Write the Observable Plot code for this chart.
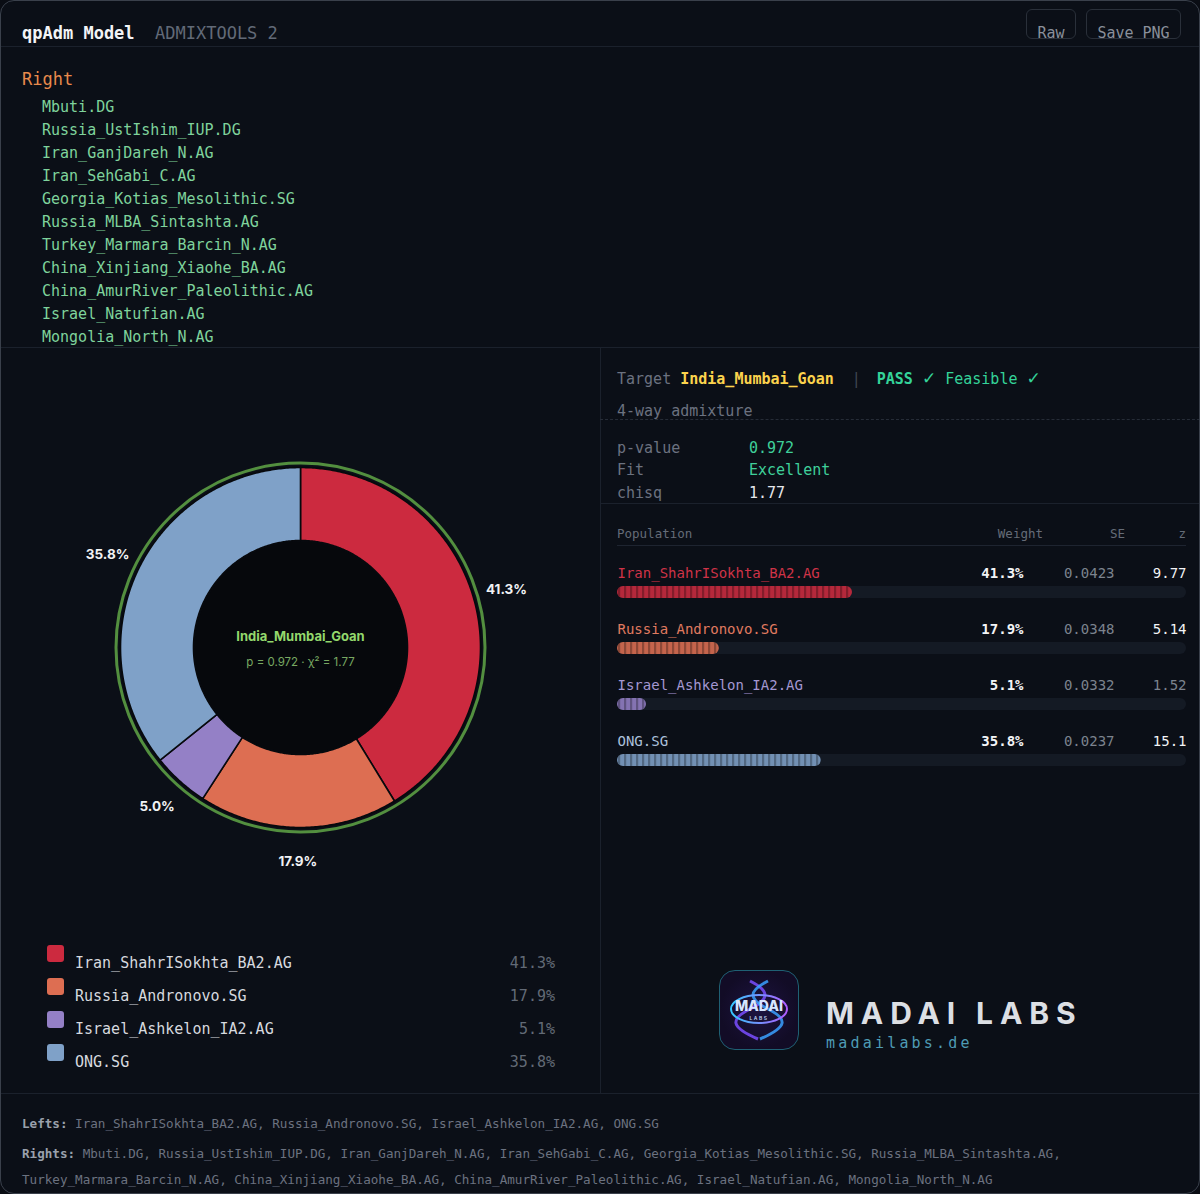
<!DOCTYPE html>
<html>
<head>
<meta charset="utf-8">
<script src="https://cdn.jsdelivr.net/npm/d3@7"></script>
<script src="https://cdn.jsdelivr.net/npm/@observablehq/plot@0.6"></script>
<style>
  html, body { margin: 0; padding: 0; background: #0a0d14; }
  body { width: 1200px; height: 1194px; overflow: hidden; position: relative; font-family: "DejaVu Sans Mono", monospace; }
  #card { position: absolute; left: 0; top: 0; width: 1200px; height: 1194px; border-radius: 14px; background: #0b0f17; overflow: hidden; }
  #edge { position: absolute; left: 0; top: 0; width: 1200px; height: 1194px; box-sizing: border-box; border: 1px solid #3a404b; border-radius: 14px; pointer-events: none; }
  .abs { position: absolute; white-space: pre; line-height: 20px; }
  .hline { position: absolute; height: 0; border-top: 1px solid #1b212c; }
  .vline { position: absolute; width: 0; border-left: 1px solid #1b212c; }
  .btn { position: absolute; border: 1px solid #2a303a; border-radius: 6px; box-sizing: border-box; color: #8a909b; font-size: 15px; text-align: center; line-height: 20px; }
  .chk { font-family: "DejaVu Sans", sans-serif; font-size: 17px; font-weight: 700; }
  #pie g[aria-label="ring"] circle { filter: drop-shadow(0 0 4px rgba(120, 210, 90, 0.5)); }
</style>
</head>
<body>
<svg width="0" height="0" style="position:absolute">
  <defs>
    <pattern id="stripes" width="6" height="12" patternUnits="userSpaceOnUse">
      <rect x="0" y="0" width="2.2" height="12" fill="rgba(0,0,0,0.28)"></rect>
    </pattern>
  </defs>
</svg>
<div id="card"></div>
<div id="edge"></div>
<script>
// ---------------- data ----------------
const populations = ["Iran_ShahrISokhta_BA2.AG", "Russia_Andronovo.SG", "Israel_Ashkelon_IA2.AG", "ONG.SG"];
const weights = [41.3, 17.9, 5.1, 35.8];            // percent
const pieLabels = ["41.3%", "17.9%", "5.0%", "35.8%"];
const seValues = ["0.0423", "0.0348", "0.0332", "0.0237"];
const zValues = ["9.77", "5.14", "1.52", "15.1"];
const sliceColors = ["#cc2a3f", "#dd6e52", "#9480c6", "#7fa1c8"];
const nameColors = ["#cf3347", "#e07b60", "#a497d2", "#adc1dc"];
const rightPops = ["Mbuti.DG", "Russia_UstIshim_IUP.DG", "Iran_GanjDareh_N.AG", "Iran_SehGabi_C.AG",
  "Georgia_Kotias_Mesolithic.SG", "Russia_MLBA_Sintashta.AG", "Turkey_Marmara_Barcin_N.AG",
  "China_Xinjiang_Xiaohe_BA.AG", "China_AmurRiver_Paleolithic.AG", "Israel_Natufian.AG", "Mongolia_North_N.AG"];
const target = "India_Mumbai_Goan";
const pValue = "0.972";
const fitLabel = "Excellent";
const chisq = "1.77";
const nWay = "4-way admixture";

const rows = populations.map((name, i) => ({
  name, w: weights[i], label: pieLabels[i], se: seValues[i], z: zValues[i],
  color: sliceColors[i], nameColor: nameColors[i]
}));

// ---------------- helpers ----------------
const card = document.getElementById("card");
function txt(x, cy, text, style = {}, anchor = "start") {
  const d = document.createElement("div");
  d.className = "abs";
  d.textContent = text;
  d.style.top = (cy - 9) + "px";
  if (anchor === "end") { d.style.right = (1200 - x) + "px"; d.style.textAlign = "right"; }
  else d.style.left = x + "px";
  Object.assign(d.style, style);
  card.appendChild(d);
  return d;
}
function html(x, cy, inner, style = {}) {
  const d = document.createElement("div");
  d.className = "abs";
  d.innerHTML = inner;
  d.style.left = x + "px"; d.style.top = (cy - 9) + "px";
  Object.assign(d.style, style);
  card.appendChild(d);
  return d;
}
function hline(x, y, w, style = {}) {
  const d = document.createElement("div"); d.className = "hline";
  d.style.left = x + "px"; d.style.top = y + "px"; d.style.width = w + "px";
  Object.assign(d.style, style); card.appendChild(d);
}
function vline(x, y, h) {
  const d = document.createElement("div"); d.className = "vline";
  d.style.left = x + "px"; d.style.top = y + "px"; d.style.height = h + "px"; card.appendChild(d);
}

// ---------------- header ----------------
txt(22, 32, "qpAdm Model", { fontSize: "17px", fontWeight: "700", color: "#f3f4f6" });
txt(155, 32, "ADMIXTOOLS 2", { fontSize: "17px", color: "#626a77" });
for (const [x, w, label] of [[1026, 50, "Raw"], [1086, 95, "Save PNG"]]) {
  const b = document.createElement("div"); b.className = "btn";
  b.style.left = x + "px"; b.style.top = "9px"; b.style.width = w + "px"; b.style.height = "30px";
  b.style.paddingTop = "13px"; b.style.boxSizing = "border-box";
  b.textContent = label; card.appendChild(b);
}
hline(0, 46, 1200);

// ---------------- right list ----------------
txt(22, 78, "Right", { fontSize: "17px", color: "#e88a4c" });
rightPops.forEach((p, i) => txt(42, 106 + 23 * i, p, { fontSize: "15px", color: "#7fd39c" }));
hline(0, 347, 1200);
vline(600, 347, 746);
hline(0, 1093, 1200);

// ---------------- right panel ----------------
html(617, 377,
  `<span style="color:#6b7280">Target</span> <span style="color:#fcd34d;font-weight:700">${target}</span>` +
  `<span style="color:#3f4652;margin-left:18px;margin-right:16px">|</span>` +
  `<span style="color:#34d399;font-weight:700">PASS <span class="chk">✓</span></span> <span style="color:#34d399">Feasible <span class="chk">✓</span></span>`,
  { fontSize: "15px" });
txt(617, 410, nWay, { fontSize: "15px", color: "#6b7280" });
hline(600, 419, 600, { borderTop: "1px dashed #262c37" });
[["p-value", pValue, "#3fcf9a"], ["Fit", fitLabel, "#3fcf9a"], ["chisq", chisq, "#e5e7eb"]].forEach(([k, v, c], i) => {
  const cy = [447, 469, 492][i];
  txt(617, cy, k, { fontSize: "15px", color: "#6b7280" });
  txt(749, cy, v, { fontSize: "15px", color: c });
});
hline(600, 503, 600);

// table header
txt(617, 533, "Population", { fontSize: "12.5px", color: "#656c78" });
txt(1043, 533, "Weight", { fontSize: "12.5px", color: "#656c78" }, "end");
txt(1125, 533, "SE", { fontSize: "12.5px", color: "#656c78" }, "end");
txt(1186, 533, "z", { fontSize: "12.5px", color: "#656c78" }, "end");
hline(617, 545, 569, { borderTop: "1px solid #1e2430" });

// ---------------- table plot ----------------
const mono = "DejaVu Sans Mono, monospace";
const table = Plot.plot({
  width: 600, height: 260,
  marginLeft: 17, marginRight: 14, marginTop: 0, marginBottom: 0,
  x: { domain: [0, 1], axis: null },
  y: { type: "band", domain: populations, range: [30, 254], padding: 0, axis: null },
  color: { type: "identity" },
  style: { background: "transparent", fontFamily: mono, overflow: "visible" },
  marks: [
    Plot.barX(rows, { x1: 0, x2: 1, y: "name", fill: "#141a24", insetTop: 41, insetBottom: 3, rx: 6 }),
    Plot.barX(rows, { x1: 0, x2: d => d.w / 100, y: "name", fill: "color", fillOpacity: 0.88, insetTop: 41, insetBottom: 3, rx: 6 }),
    Plot.barX(rows, { x1: 0, x2: d => d.w / 100, y: "name", fill: "url(#stripes)", insetTop: 41, insetBottom: 3, rx: 6 }),
    Plot.text(rows, { x: 0, y: "name", text: "name", textAnchor: "start", fill: "nameColor", fontSize: 14 }),
    Plot.text(rows, { frameAnchor: "right", dx: -163, y: "name", text: d => d.w.toFixed(1) + "%", textAnchor: "end", fill: "#f3f4f6", fontWeight: 700, fontSize: 14 }),
    Plot.text(rows, { frameAnchor: "right", dx: -72, y: "name", text: "se", textAnchor: "end", fill: "#7c838e", fontSize: 14 }),
    Plot.text(rows, { frameAnchor: "right", dx: 0, y: "name", text: "z", textAnchor: "end",
      fill: d => Math.abs(+d.z) >= 2 ? "#f3f4f6" : "#7c838e", fontWeight: d => Math.abs(+d.z) >= 2 ? 700 : 400, fontSize: 14 })
  ]
});
table.style.position = "absolute"; table.style.left = "600px"; table.style.top = "515px";
card.appendChild(table);

// ---------------- donut plot ----------------
const R = 180, innerR = 107 / R, labelR = 214 / R;
const arcs = d3.pie().sort(null).value(d => d.w)(rows);
const polys = [];
arcs.forEach(a => {
  const n = Math.max(4, Math.ceil((a.endAngle - a.startAngle) / 0.01));
  for (let i = 0; i <= n; i++) {
    const t = a.startAngle + (a.endAngle - a.startAngle) * i / n;
    polys.push({ name: a.data.name, color: a.data.color, x: Math.sin(t), y: -Math.cos(t) });
  }
  for (let i = n; i >= 0; i--) {
    const t = a.startAngle + (a.endAngle - a.startAngle) * i / n;
    polys.push({ name: a.data.name, color: a.data.color, x: innerR * Math.sin(t), y: -innerR * Math.cos(t) });
  }
});
const labels = arcs.map(a => {
  const m = (a.startAngle + a.endAngle) / 2;
  return { text: a.data.label, x: labelR * Math.sin(m), y: -labelR * Math.cos(m) };
});
const sans = "Inter, Roboto, sans-serif";
const W = 600, H = 540, cx = 300, cy = 287;
const pie = Plot.plot({
  width: W, height: H, margin: 0,
  x: { domain: [-cx / R, (W - cx) / R], range: [0, W], axis: null },
  y: { domain: [-cy / R, (H - cy) / R], range: [0, H], axis: null },
  color: { type: "identity" },
  style: { background: "transparent", overflow: "visible" },
  marks: [
    Plot.dot([0], { x: () => 0, y: () => 0, r: 184.5, fill: "none", stroke: "#538f3f", strokeWidth: 3, ariaLabel: "ring" }),
    Plot.dot([0], { x: () => 0, y: () => 0, r: 181.5, fill: "#0a0d13" }),
    Plot.line(polys, { x: "x", y: "y", z: "name", fill: "color", stroke: "#07090d", strokeWidth: 1.6, curve: "linear-closed" }),
    Plot.dot([0], { x: () => 0, y: () => 0, r: 106, fill: "#06080c" }),
    Plot.text(labels, { x: "x", y: "y", text: "text", fill: "#f1f2f4", fontWeight: 700, fontSize: 13.5, fontFamily: sans }),
    Plot.text([target], { x: () => 0, y: () => 0, dy: -11, text: d => d, fill: "#93d86c", fontWeight: 700, fontSize: 13, fontFamily: sans }),
    Plot.text([`p = ${pValue} · χ² = ${chisq}`], { x: () => 0, y: () => 0, dy: 15, text: d => d, fill: "#78a862", fontSize: 11.5, fontFamily: sans })
  ]
});
pie.id = "pie";
pie.style.position = "absolute"; pie.style.left = "0px"; pie.style.top = "360px";
card.appendChild(pie);

// ---------------- legend ----------------
rows.forEach((r, i) => {
  const cyy = 962 + 33 * i;
  const sq = document.createElement("div");
  Object.assign(sq.style, { position: "absolute", left: "47px", top: (cyy - 17) + "px", width: "17px", height: "17px", borderRadius: "3px", background: r.color });
  card.appendChild(sq);
  txt(75, cyy, r.name, { fontSize: "15px", color: "#d6d9df" });
  txt(555, cyy, r.w.toFixed(1) + "%", { fontSize: "15px", color: "#626a76" }, "end");
});

// ---------------- logo ----------------
const logo = document.createElement("div");
Object.assign(logo.style, { position: "absolute", left: "719px", top: "970px", width: "80px", height: "80px", border: "1.5px solid #1f6074", borderRadius: "16px", boxSizing: "border-box", background: "radial-gradient(circle at 50% 50%, #1d1440 0%, #120c26 70%)", overflow: "hidden" });
logo.innerHTML = `<svg width="78" height="78" viewBox="0 0 78 78">
  <defs><linearGradient id="lg" x1="0" x2="1"><stop offset="0" stop-color="#35c8ff"/><stop offset="1" stop-color="#b05cff"/></linearGradient></defs>
  <path d="M30 10 C 50 20, 50 28, 30 38 S 10 56, 38 68" fill="none" stroke="#7a4dff" stroke-width="3" opacity="0.85"/>
  <path d="M48 10 C 28 20, 28 28, 48 38 S 68 56, 40 68" fill="none" stroke="#3aa0ff" stroke-width="3" opacity="0.85"/>
  <ellipse cx="39" cy="38" rx="28" ry="14" fill="none" stroke="url(#lg)" stroke-width="2"/>
  <text x="39" y="40" text-anchor="middle" font-family="Inter, sans-serif" font-weight="800" font-size="14" fill="#d8e6ff">MADAI</text>
  <text x="39" y="49" text-anchor="middle" font-family="Inter, sans-serif" font-weight="600" font-size="5" fill="#bcd0f0" letter-spacing="1.5">LABS</text>
</svg>`;
card.appendChild(logo);
txt(826, 1012, "MADAI LABS", { fontSize: "30px", lineHeight: "20px", fontWeight: "700", fontFamily: "Inter, sans-serif", letterSpacing: "6.9px", color: "#dcdfe4" });
txt(826, 1042, "madailabs.de", { fontSize: "15px", letterSpacing: "3.2px", color: "#4e9bb4" });

// ---------------- footer ----------------
const lefts = populations.join(", ");
html(22, 1123, `<b style="color:#9aa1ac">Lefts:</b> <span style="color:#6b7280">${lefts}</span>`, { fontSize: "12.6px" });
const r1 = rightPops.slice(0, 6).join(", ") + ",";
const r2 = rightPops.slice(6).join(", ");
html(22, 1153, `<b style="color:#9aa1ac">Rights:</b> <span style="color:#6b7280">${r1}</span>`, { fontSize: "12.6px" });
html(22, 1179, `<span style="color:#6b7280">${r2}</span>`, { fontSize: "12.6px" });
</script>
</body>
</html>
